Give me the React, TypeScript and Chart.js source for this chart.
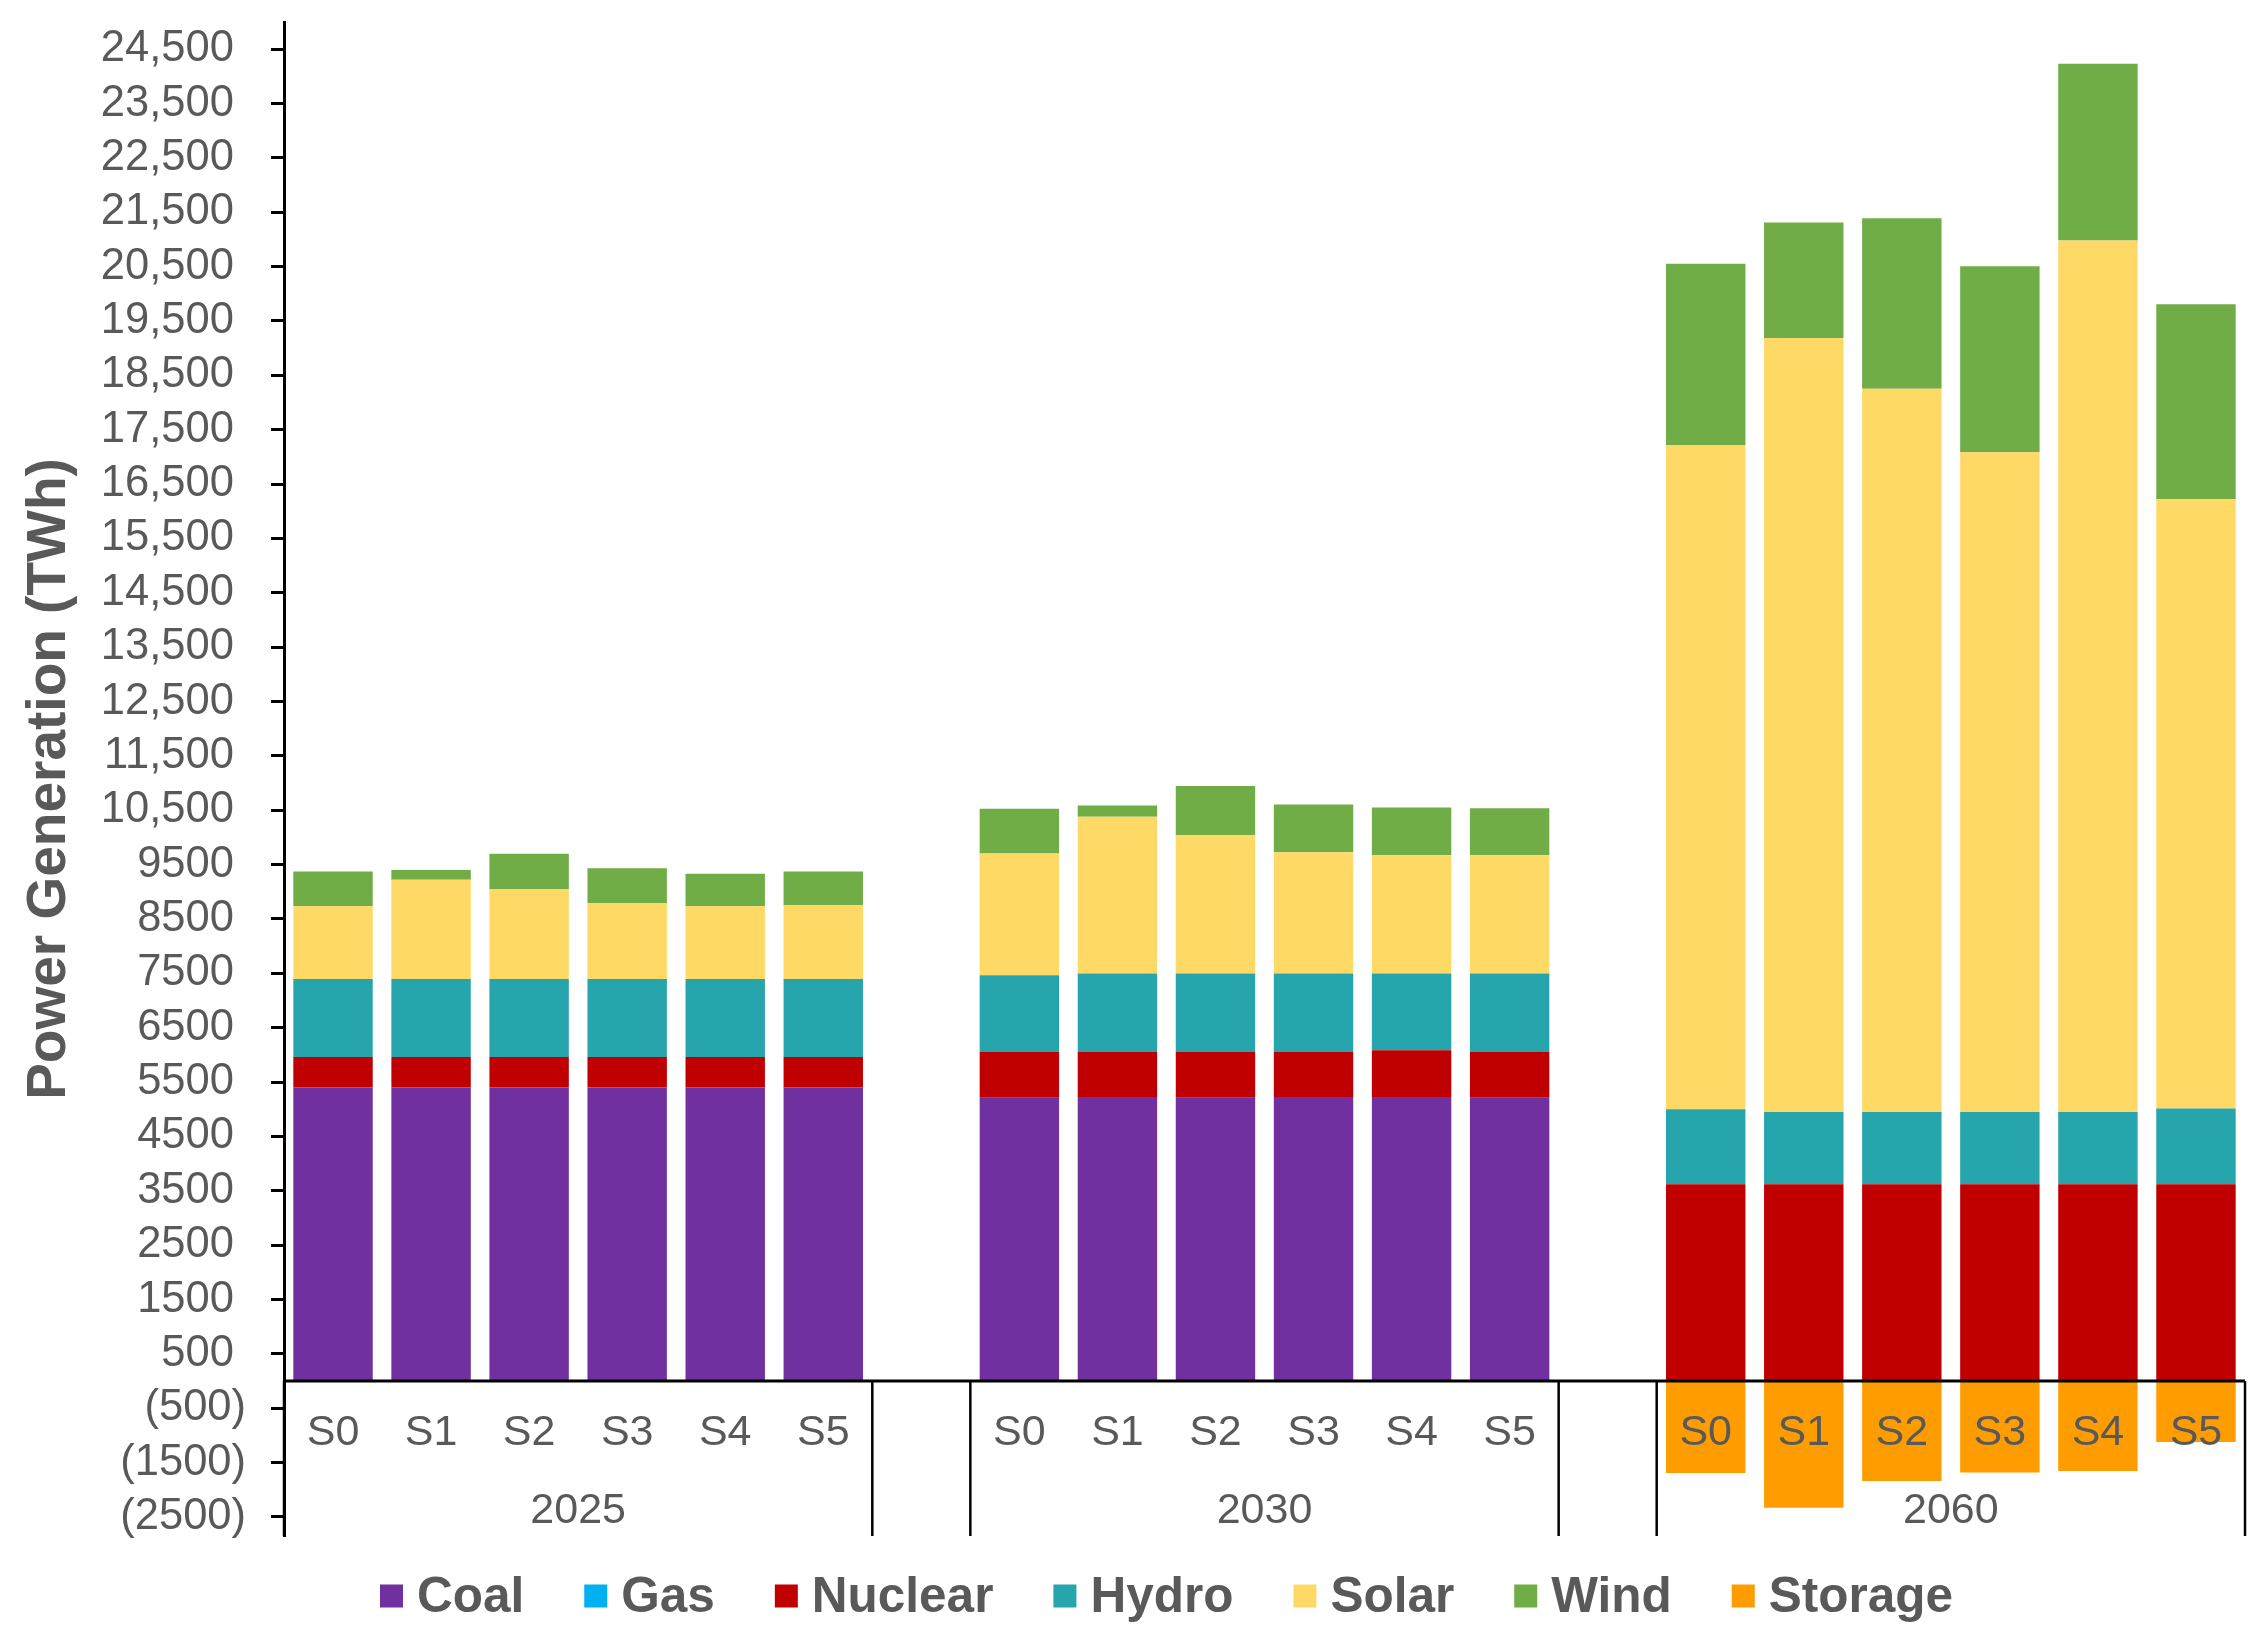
import { useEffect, useRef } from "react";
import { Chart, registerables } from "chart.js";

Chart.register(...registerables);

const FONT = "'Liberation Sans', Arial, sans-serif";
const TEXT = "#595959";

// x categories: six scenarios per year, one empty slot between years
const scenarios = ["S0", "S1", "S2", "S3", "S4", "S5"];
const years = ["2025", "2030", "2060"];
const groupStarts = [0, 7, 14];
const categories = [
  "S0", "S1", "S2", "S3", "S4", "S5", "",
  "S0", "S1", "S2", "S3", "S4", "S5", "",
  "S0", "S1", "S2", "S3", "S4", "S5",
];

// TWh by source
const coal = [5400, 5400, 5400, 5400, 5400, 5400, null, 5210, 5225, 5210, 5225, 5225, 5210, null, 0, 0, 0, 0, 0, 0];
const gas = [0, 0, 0, 0, 0, 0, null, 0, 0, 0, 0, 0, 0, null, 0, 0, 0, 0, 0, 0];
const nuclear = [560, 560, 560, 560, 560, 560, null, 844, 829, 844, 829, 860, 844, null, 3620, 3620, 3620, 3620, 3620, 3620];
const hydro = [1435, 1435, 1435, 1435, 1435, 1435, null, 1411, 1442, 1442, 1442, 1411, 1442, null, 1380, 1330, 1330, 1330, 1330, 1395];
const solar = [1339, 1827, 1658, 1399, 1339, 1359, null, 2240, 2884, 2543, 2233, 2178, 2178, null, 12217, 14238, 13305, 12136, 16032, 11211];
const wind = [638, 180, 648, 638, 598, 618, null, 822, 209, 907, 876, 876, 861, null, 3338, 2122, 3134, 3423, 3252, 3581];
const storage = [0, 0, 0, 0, 0, 0, null, 0, 0, 0, 0, 0, 0, null, -1690, -2330, -1840, -1680, -1655, -1120];

const yTicks = [
  -2500, -1500, -500, 500, 1500, 2500, 3500, 4500, 5500, 6500, 7500, 8500, 9500,
  10500, 11500, 12500, 13500, 14500, 15500, 16500, 17500, 18500, 19500, 20500,
  21500, 22500, 23500, 24500,
];

const series = [
  { label: "Coal", data: coal, color: "#7030A0" },
  { label: "Gas", data: gas, color: "#00B0F0" },
  { label: "Nuclear", data: nuclear, color: "#C00000" },
  { label: "Hydro", data: hydro, color: "#27A5AC" },
  { label: "Solar", data: solar, color: "#FFD966" },
  { label: "Wind", data: wind, color: "#70AD47" },
  { label: "Storage", data: storage, color: "#FF9C00" },
];

const formatTick = (v: number) => {
  if (v < 0) return `(${Math.abs(v)})`;
  if (v >= 10000) return v.toLocaleString("en-US") + " ";
  return String(v) + " ";
};

// two-level category axis drawn at the zero line, like Excel's
const groupAxis = {
  id: "groupAxis",
  afterDatasetsDraw(chart: any) {
    const { ctx, chartArea, scales } = chart;
    const x = scales.x;
    const y = scales.y;
    const zero = y.getPixelForValue(0);
    const half = (x.getPixelForValue(1) - x.getPixelForValue(0)) / 2;
    ctx.save();
    ctx.strokeStyle = "#000";
    ctx.lineWidth = 3;
    ctx.beginPath();
    ctx.moveTo(chartArea.left, zero);
    ctx.lineTo(chartArea.right, zero);
    ctx.stroke();

    ctx.lineWidth = 2.5;
    groupStarts.forEach((start) => {
      const l = x.getPixelForValue(start) - half;
      const r = x.getPixelForValue(start + scenarios.length - 1) + half;
      [l, r].forEach((px) => {
        ctx.beginPath();
        ctx.moveTo(px, zero);
        ctx.lineTo(px, chartArea.bottom);
        ctx.stroke();
      });
    });

    ctx.fillStyle = TEXT;
    ctx.font = `43px ${FONT}`;
    ctx.textAlign = "center";
    ctx.textBaseline = "middle";
    categories.forEach((c, i) => {
      if (c) ctx.fillText(c, x.getPixelForValue(i), zero + 52);
    });
    years.forEach((yr, g) => {
      const cx = (x.getPixelForValue(groupStarts[g]) + x.getPixelForValue(groupStarts[g] + scenarios.length - 1)) / 2;
      ctx.fillText(yr, cx, zero + 130);
    });
    ctx.restore();
  },
};

const legendRow = {
  id: "legendRow",
  afterDraw(chart: any) {
    const { ctx } = chart;
    const box = 23;
    const yMid = 1596;
    let px = 380;
    ctx.save();
    ctx.font = `bold 49.5px ${FONT}`;
    ctx.textBaseline = "middle";
    ctx.textAlign = "left";
    chart.data.datasets.forEach((ds: any) => {
      ctx.fillStyle = ds.backgroundColor;
      ctx.fillRect(px, yMid - box / 2, box, box);
      px += box + 14;
      ctx.fillStyle = TEXT;
      ctx.fillText(ds.label, px, yMid + 2);
      px += ctx.measureText(ds.label).width + 60;
    });
    ctx.restore();
  },
};

export default function App() {
  const chartRef = useRef<HTMLCanvasElement | null>(null);

  useEffect(() => {
    if (!chartRef.current) return;
    const chart = new Chart(chartRef.current, {
      type: "bar",
      data: {
        labels: categories,
        datasets: series.map((s) => ({
          label: s.label,
          data: s.data,
          backgroundColor: s.color,
          borderWidth: 0,
          barPercentage: 0.81,
          categoryPercentage: 1,
        })),
      },
      options: {
        animation: false,
        responsive: true,
        maintainAspectRatio: false,
        layout: { padding: { left: 0, right: 23, top: 22, bottom: 113 } },
        plugins: {
          legend: { display: false },
          tooltip: { enabled: false },
        },
        scales: {
          x: { stacked: true, display: false },
          y: {
            stacked: true,
            min: -2850,
            max: 25000,
            border: { color: "#000", width: 3 },
            grid: { drawOnChartArea: false, tickLength: 13, tickColor: "#000", tickWidth: 3 },
            ticks: {
              color: TEXT,
              padding: 25,
              font: { size: 43.5, family: FONT },
              callback: (v: any) => formatTick(Number(v)),
            },
            title: {
              display: true,
              text: "Power Generation (TWh)",
              color: TEXT,
              font: { size: 55, weight: "bold", family: FONT },
              padding: { top: 17, bottom: 0 },
            },
            afterBuildTicks: (axis: any) => {
              axis.ticks = yTicks.map((v) => ({ value: v }));
            },
            afterFit: (axis: any) => {
              axis.width = 284;
              axis.paddingTop = 0;
              axis.paddingBottom = 0;
            },
          },
        },
      },
      plugins: [groupAxis, legendRow],
    });
    return () => chart.destroy();
  }, []);

  return (
    <div style={{ position: "fixed", left: 0, top: 0, width: "2268px", height: "1649px", background: "#fff" }}>
      <canvas ref={chartRef}></canvas>
    </div>
  );
}
